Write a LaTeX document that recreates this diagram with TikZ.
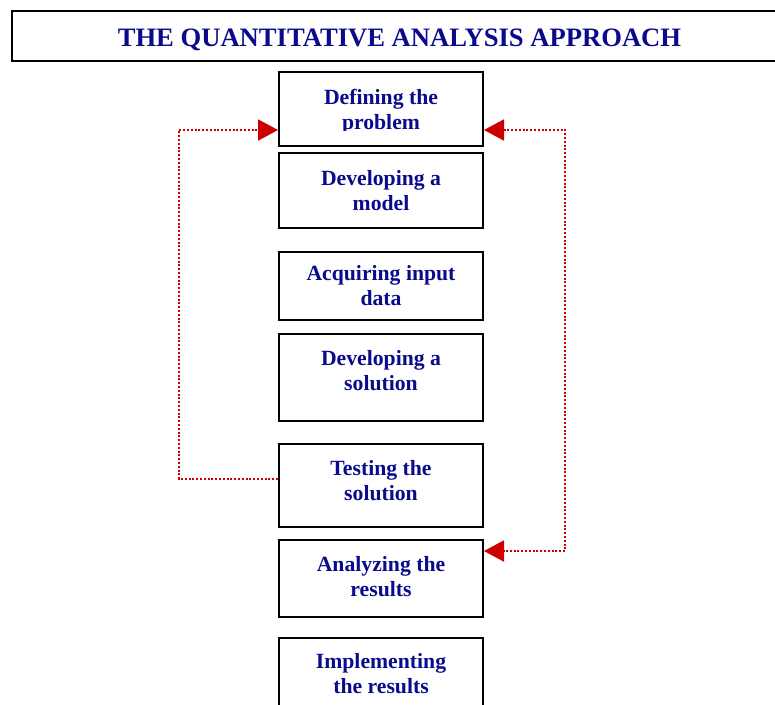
\documentclass[tikz,border=0pt]{standalone}
\usepackage{fontspec}
\setmainfont{Liberation Serif}
\usetikzlibrary{arrows.meta}
\definecolor{navytxt}{RGB}{10,10,140}
\definecolor{fbred}{RGB}{204,0,0}
\begin{document}
\begin{tikzpicture}[x=1pt,y=-1pt,
  stepbox/.style={draw=black, line width=2pt, rectangle, minimum width=204pt, inner sep=0pt},
  steptext/.style={anchor=base, inner sep=0pt, text=navytxt, font=\fontsize{21.7}{25}\selectfont\bfseries},
  fb/.style={draw=fbred, line width=2pt, dash pattern=on 2pt off 1.8pt},
  tip/.style={Triangle[length=20pt, width=21pt, fill=fbred]}
]
\useasboundingbox (0,0) rectangle (775,704);
\clip (0,0) rectangle (775,704);
% title
\node[draw=black, line width=2pt, rectangle, minimum width=766pt, minimum height=50pt, anchor=north west, inner sep=0pt] (title) at (11,10) {};
\node[anchor=base, inner sep=0pt, text=navytxt, font=\fontsize{26.6}{30}\selectfont\bfseries] (titletext) at (399.5,46.5) {THE QUANTITATIVE ANALYSIS APPROACH};
% boxes
\node[stepbox, minimum height=74pt] (b1) at (381,109) {};
\node[stepbox, minimum height=75pt] (b2) at (381,190.5) {};
\node[stepbox, minimum height=68pt] (b3) at (381,286) {};
\node[stepbox, minimum height=87pt] (b4) at (381,377.5) {};
\node[stepbox, minimum height=83pt] (b5) at (381,485.5) {};
\node[stepbox, minimum height=77pt] (b6) at (381,578.5) {};
\node[stepbox, minimum height=82pt] (b7) at (381,679) {};
% texts
\begin{scope}
\clip (279,72) rectangle (483,130.5);
\node[steptext] (t1) at (381,104) {\begin{tabular}[t]{@{}c@{}}Defining the\\problem\end{tabular}};
\end{scope}
\node[steptext] (t2) at (381,185.5) {\begin{tabular}[t]{@{}c@{}}Developing a\\model\end{tabular}};
\node[steptext] (t3) at (381,280.3) {\begin{tabular}[t]{@{}c@{}}Acquiring input\\data\end{tabular}};
\node[steptext] (t4) at (381,365.7) {\begin{tabular}[t]{@{}c@{}}Developing a\\solution\end{tabular}};
\node[steptext] (t5) at (381,475.7) {\begin{tabular}[t]{@{}c@{}}Testing the\\solution\end{tabular}};
\node[steptext] (t6) at (381,571) {\begin{tabular}[t]{@{}c@{}}Analyzing the\\results\end{tabular}};
\node[steptext] (t7) at (381,668) {\begin{tabular}[t]{@{}c@{}}Implementing\\the results\end{tabular}};
% feedback connectors
\coordinate (lbot) at (179,479);
\coordinate (ltop) at (179,130);
\coordinate (rtop) at (565,130);
\coordinate (rbot) at (565,551);
\draw[fb, -{Triangle[length=20pt, width=21pt, fill=fbred]}] (b5.west |- lbot) -- (lbot) -- (ltop) -- (b1.west |- ltop);
\draw[fb, {Triangle[length=20pt, width=21pt, fill=fbred]}-{Triangle[length=20pt, width=21pt, fill=fbred]}] (b1.east |- rtop) -- (rtop) -- (rbot) -- (b6.east |- rbot);
\end{tikzpicture}
\end{document}
